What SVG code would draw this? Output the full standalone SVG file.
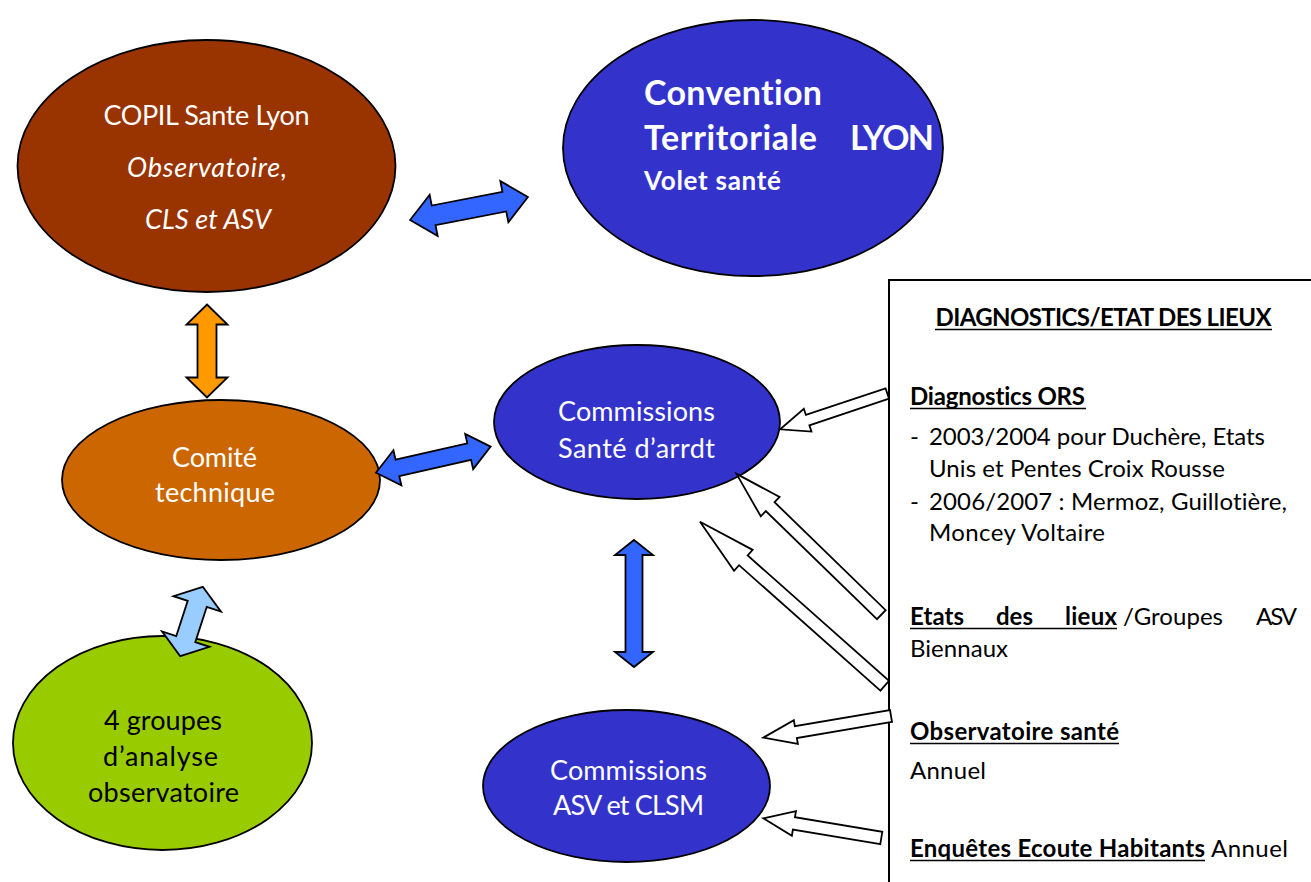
<svg xmlns="http://www.w3.org/2000/svg" width="1311" height="882" viewBox="0 0 1311 882">
<style>
text{font-variant-ligatures:none}
.el{stroke:#000;stroke-width:1.8}
.t{font-family:Lato,"Open Sans",sans-serif;font-size:27px;fill:#fff}
.tc{text-anchor:middle}
.dk{fill:#000}
.it{font-style:italic}
.cv{font-family:Lato,"Open Sans",sans-serif;font-weight:bold;fill:#fff}
.bx{font-family:Lato,"Open Sans",sans-serif;font-size:24px;fill:#000}
.b{font-weight:bold}
.ul{stroke:#000;stroke-width:1.6}
.da{stroke:#000;stroke-width:1.8;stroke-linejoin:miter}
.blue{fill:#3366FF}
.org{fill:#FF9900}
.lb{fill:#99CCFF}
.wa{fill:#fff;stroke:#000;stroke-width:1.8;stroke-linejoin:miter}
</style>
<rect width="1311" height="882" fill="#fff"/>

<g id="copil">
<ellipse class="el" cx="206.5" cy="166" rx="189" ry="126" fill="#993300"/>
<text class="t tc" x="206.5" y="125" textLength="206">COPIL Sante Lyon</text>
<text class="t tc it" x="207" y="177" textLength="160">Observatoire,</text>
<text class="t tc it" x="208" y="229" textLength="126">CLS et ASV</text>
</g>

<g id="convention">
<ellipse class="el" cx="753" cy="148" rx="190" ry="128" fill="#3333CC"/>
<text class="cv" x="644" y="105" font-size="34" textLength="178">Convention</text>
<text class="cv" y="150" font-size="34"><tspan x="644" textLength="173">Territoriale</tspan><tspan x="850" textLength="84">LYON</tspan></text>
<text class="cv" x="644" y="190" font-size="26" textLength="137">Volet santé</text>
</g>

<g id="comite">
<ellipse class="el" cx="221" cy="480" rx="159" ry="80" fill="#CC6600"/>
<text class="t tc" x="214.5" y="467" textLength="85">Comité</text>
<text class="t tc" x="215" y="502" textLength="120">technique</text>
</g>

<g id="groupes">
<ellipse class="el" cx="162.5" cy="743" rx="149.5" ry="107" fill="#99CC00"/>
<text class="t tc dk" x="163" y="730" textLength="118">4 groupes</text>
<text class="t tc dk" x="160.5" y="766" textLength="115">d’analyse</text>
<text class="t tc dk" x="163.5" y="802" textLength="151">observatoire</text>
</g>

<g id="commissions-sante">
<ellipse class="el" cx="637" cy="422" rx="143" ry="77" fill="#3333CC"/>
<text class="t tc" x="636.5" y="421" textLength="157">Commissions</text>
<text class="t tc" x="636.5" y="458" textLength="157">Santé d’arrdt</text>
</g>

<g id="commissions-asv">
<ellipse class="el" cx="626.5" cy="786" rx="143.5" ry="76" fill="#3333CC"/>
<text class="t tc" x="628.5" y="780" textLength="157">Commissions</text>
<text class="t tc" x="628.5" y="815" textLength="151">ASV et CLSM</text>
</g>

<g id="diagnostics">
<rect x="889" y="280" width="440" height="620" fill="#fff" stroke="#000" stroke-width="2"/>
<text class="bx b" x="1103.5" y="326" text-anchor="middle" textLength="336">DIAGNOSTICS/ETAT DES LIEUX</text>
<line class="ul" x1="935" y1="329.5" x2="1272" y2="329.5"/>
<text class="bx b" x="910" y="405" textLength="175">Diagnostics ORS</text>
<line class="ul" x1="910" y1="408.5" x2="1086" y2="408.5"/>
<text class="bx" y="445"><tspan x="910">-</tspan><tspan x="929" textLength="336">2003/2004 pour Duchère, Etats</tspan></text>
<text class="bx" x="929" y="477" textLength="296">Unis et Pentes Croix Rousse</text>
<text class="bx" y="510"><tspan x="910">-</tspan><tspan x="929" textLength="358">2006/2007 : Mermoz, Guillotière,</tspan></text>
<text class="bx" x="929" y="541" textLength="176">Moncey Voltaire</text>
<text class="bx" y="625"><tspan class="b" x="910" textLength="54">Etats</tspan><tspan class="b" x="996" textLength="37">des</tspan><tspan class="b" x="1065" textLength="52">lieux</tspan><tspan x="1123" textLength="100">/Groupes</tspan><tspan x="1256" textLength="41">ASV</tspan></text>
<line class="ul" x1="910" y1="628.5" x2="1117" y2="628.5"/>
<text class="bx" x="910" y="657" textLength="98">Biennaux</text>
<text class="bx b" x="910" y="740" textLength="209">Observatoire santé</text>
<line class="ul" x1="910" y1="743.5" x2="1119" y2="743.5"/>
<text class="bx" x="910" y="779" textLength="76">Annuel</text>
<text class="bx" y="857"><tspan class="b" x="910" textLength="295">Enquêtes Ecoute Habitants</tspan><tspan x="1211" textLength="77">Annuel</tspan></text>
<line class="ul" x1="910" y1="860.5" x2="1205" y2="860.5"/>
</g>

<g id="connectors">
<path class="da blue" transform="translate(469,208.5) rotate(-11)" d="M -60 0 L -36 -21 L -36 -10 L 36 -10 L 36 -21 L 60 0 L 36 21 L 36 10 L -36 10 L -36 21 Z"/>
<path class="da org" transform="translate(207,351) rotate(90)" d="M -46.5 0 L -26.5 -20.5 L -26.5 -9.5 L 26.5 -9.5 L 26.5 -20.5 L 46.5 0 L 26.5 20.5 L 26.5 9.5 L -26.5 9.5 L -26.5 20.5 Z"/>
<path class="da lb" transform="translate(191.5,621.5) rotate(-72)" d="M -36.5 0 L -18.5 -25 L -18.5 -10 L 18.5 -10 L 18.5 -25 L 36.5 0 L 18.5 25 L 18.5 10 L -18.5 10 L -18.5 25 Z"/>
<path class="da blue" transform="translate(433.3,459.7) rotate(-12.8)" d="M -58.8 0 L -36.8 -18 L -36.8 -8.5 L 36.8 -8.5 L 36.8 -18 L 58.8 0 L 36.8 18 L 36.8 8.5 L -36.8 8.5 L -36.8 18 Z"/>
<path class="da blue" transform="translate(634,603.5) rotate(90)" d="M -63.5 0 L -48.5 -19 L -48.5 -8.5 L 48.5 -8.5 L 48.5 -19 L 63.5 0 L 48.5 19 L 48.5 8.5 L -48.5 8.5 L -48.5 19 Z"/>
<path class="wa" transform="translate(887.3,393.5) rotate(161.5)" d="M 0 -5.5 L 84 -5.5 L 84 -12 L 113 0 L 84 12 L 84 5.5 L 0 5.5 Z"/>
<path class="wa" transform="translate(881.3,614.7) rotate(-135.8)" d="M 0 -6.25 L 155 -6.25 L 155 -13.5 L 202 0 L 155 13.5 L 155 6.25 L 0 6.25 Z"/>
<path class="wa" transform="translate(884.7,685.8) rotate(-138.4)" d="M 0 -6.5 L 189 -6.5 L 189 -14 L 247 0 L 189 14 L 189 6.5 L 0 6.5 Z"/>
<path class="wa" transform="translate(891,716) rotate(170.4)" d="M 0 -6 L 96.5 -6 L 96.5 -12 L 129.5 0 L 96.5 12 L 96.5 6 L 0 6 Z"/>
<path class="wa" transform="translate(881.3,838) rotate(-170.5)" d="M 0 -6.25 L 88.6 -6.25 L 88.6 -12.5 L 119.6 0 L 88.6 12.5 L 88.6 6.25 L 0 6.25 Z"/>
</g>
</svg>
